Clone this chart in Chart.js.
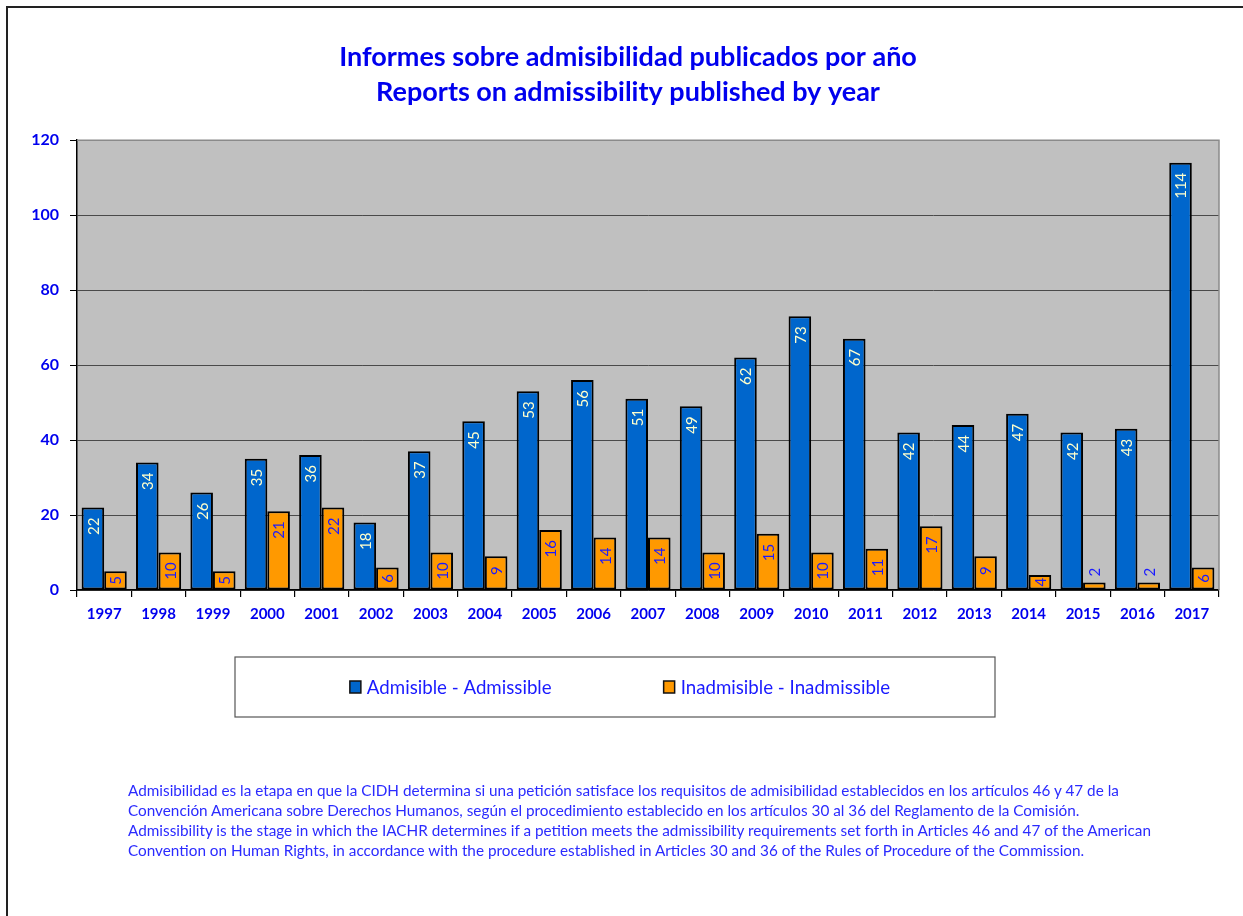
<!DOCTYPE html>
<html>
<head>
<meta charset="utf-8">
<title>Informes sobre admisibilidad publicados por año</title>
<script src="https://cdn.jsdelivr.net/npm/chart.js@4/dist/chart.umd.min.js"></script>
<style>
    html, body { margin: 0; padding: 0; background: #fff; overflow: hidden; }
    #frame {
        position: absolute; left: 6px; top: 6px; width: 1400px; height: 1100px;
        border-left: 2px solid #222; border-top: 2px solid #222;
    }
    #wrap { position: absolute; left: 0; top: 0; width: 1243px; height: 916px; }
    #note {
        position: absolute; left: 128px; top: 780px;
        font-family: Lato, sans-serif; font-size: 15.3px; line-height: 20px;
        color: #2b2bff; white-space: nowrap;
    }
</style>
</head>
<body>
<div id="frame"></div>
<div id="wrap">
    <canvas id="reportsChart" width="1243" height="916"></canvas>
    <div id="note">
        Admisibilidad es la etapa en que la CIDH determina si una petición satisface los requisitos de admisibilidad establecidos en los artículos 46 y 47 de la<br>
        Convención Americana sobre Derechos Humanos, según el procedimiento establecido en los artículos 30 al 36 del Reglamento de la Comisión.<br>
        Admissibility is the stage in which the IACHR determines if a petition meets the admissibility requirements set forth in Articles 46 and 47 of the American<br>
        Convention on Human Rights, in accordance with the procedure established in Articles 30 and 36 of the Rules of Procedure of the Commission.
    </div>
</div>
<script>
    // Chart data
    const years = ['1997', '1998', '1999', '2000', '2001', '2002', '2003', '2004', '2005', '2006', '2007',
                   '2008', '2009', '2010', '2011', '2012', '2013', '2014', '2015', '2016', '2017'];
    const admisible = [22, 34, 26, 35, 36, 18, 37, 45, 53, 56, 51, 49, 62, 73, 67, 42, 44, 47, 42, 43, 114];
    const inadmisible = [5, 10, 5, 21, 22, 6, 10, 9, 16, 14, 14, 10, 15, 10, 11, 17, 9, 4, 2, 2, 6];
    const seriesNames = ['Admisible - Admissible', 'Inadmisible - Inadmissible'];
    const titleLines = ['Informes sobre admisibilidad publicados por año', 'Reports on admissibility published by year'];
    const yMax = 120;
    const yStep = 20;

    const BLUE = '#0066cc';
    const ORANGE = '#ff9900';
    const TEXT_BLUE = '#0000ee';

    // grey plot background + grey top/right border
    const plotArea = {
        id: 'plotArea',
        afterLayout(chart) {
            // title sits a bit right of the canvas centre in the original
            if (chart.titleBlock) chart.titleBlock.left += 37;
        },
        beforeDraw(chart) {
            const a = chart.chartArea;
            const ctx = chart.ctx;
            ctx.save();
            ctx.fillStyle = '#c0c0c0';
            ctx.fillRect(a.left, a.top, a.right - a.left, a.bottom - a.top);
            ctx.restore();
        },
        beforeDatasetsDraw(chart) {
            const a = chart.chartArea;
            const ctx = chart.ctx;
            ctx.save();
            ctx.strokeStyle = '#8a8a8a';
            ctx.lineWidth = 1.5;
            ctx.beginPath();
            ctx.moveTo(a.left, a.top);
            ctx.lineTo(a.right, a.top);
            ctx.lineTo(a.right, a.bottom);
            ctx.stroke();
            ctx.restore();
        }
    };

    // rotated value labels, inside the bar end (above it when the bar is too short)
    const barLabels = {
        id: 'barLabels',
        afterDatasetsDraw(chart) {
            const ctx = chart.ctx;
            const colors = ['#ffffcc', '#1a1aff'];
            ctx.save();
            ctx.font = '15px Lato';
            ctx.textBaseline = 'middle';
            chart.data.datasets.forEach(function(ds, i) {
                chart.getDatasetMeta(i).data.forEach(function(bar, j) {
                    const text = String(ds.data[j]);
                    const tw = ctx.measureText(text).width;
                    const h = bar.base - bar.y;
                    ctx.save();
                    if (h - tw >= 4) {
                        ctx.translate(bar.x, bar.y + Math.min(10, (h - tw) / 2));
                        ctx.rotate(-Math.PI / 2);
                        ctx.textAlign = 'right';
                        ctx.fillStyle = colors[i];
                    } else {
                        ctx.translate(bar.x, bar.y - 6);
                        ctx.rotate(-Math.PI / 2);
                        ctx.textAlign = 'left';
                        ctx.fillStyle = '#1a1aff';
                    }
                    ctx.fillText(text, 0, 1);
                    ctx.restore();
                });
            });
            ctx.restore();
        }
    };

    // legend inside a framed box below the axis
    const boxedLegend = {
        id: 'boxedLegend',
        afterDraw(chart) {
            const ctx = chart.ctx;
            const box = { left: 235, top: 657, width: 760, height: 60 };
            const gap = 112;
            const swatch = 12;
            ctx.save();
            ctx.strokeStyle = '#555';
            ctx.lineWidth = 1.2;
            ctx.strokeRect(box.left, box.top, box.width, box.height);

            ctx.font = '18.7px Lato';
            ctx.textBaseline = 'middle';
            const items = chart.data.datasets.map(function(ds) {
                return { label: ds.label, color: ds.backgroundColor, w: swatch + 5 + ctx.measureText(ds.label).width };
            });
            const total = items.reduce(function(s, it) { return s + it.w; }, 0) + gap * (items.length - 1);
            let x = box.left + box.width / 2 - total / 2 + 5;
            const cy = box.top + box.height / 2;
            items.forEach(function(it) {
                ctx.fillStyle = it.color;
                ctx.fillRect(x, cy - 6, swatch - 1, swatch);
                ctx.strokeStyle = '#111';
                ctx.lineWidth = 1.5;
                ctx.strokeRect(x, cy - 6, swatch - 1, swatch);
                ctx.fillStyle = '#1a1aff';
                ctx.textAlign = 'left';
                ctx.fillText(it.label, x + swatch + 5, cy + 1);
                x += it.w + gap;
            });
            ctx.restore();
        }
    };

    const ctx = document.getElementById('reportsChart').getContext('2d');
    new Chart(ctx, {
        type: 'bar',
        data: {
            labels: years,
            datasets: [{
                label: seriesNames[0],
                data: admisible,
                backgroundColor: BLUE,
                borderColor: '#000',
                borderWidth: 2,
                borderSkipped: false
            }, {
                label: seriesNames[1],
                data: inadmisible,
                backgroundColor: ORANGE,
                borderColor: '#000',
                borderWidth: 2,
                borderSkipped: false
            }]
        },
        options: {
            responsive: false,
            animation: false,
            categoryPercentage: 0.83,
            barPercentage: 1.0,
            layout: { padding: { left: 0, right: 24, top: 0, bottom: 286 } },
            plugins: {
                legend: { display: false },
                tooltip: { enabled: false },
                title: {
                    display: true,
                    text: titleLines,
                    color: TEXT_BLUE,
                    font: { family: 'Lato', size: 27, weight: 'bold', lineHeight: 1.3 },
                    padding: { top: 40, bottom: 30 }
                }
            },
            scales: {
                x: {
                    grid: { offset: true, drawOnChartArea: false, tickLength: 7, tickColor: '#000', lineWidth: 1.2 },
                    border: { color: '#000', width: 1.5 },
                    ticks: { color: TEXT_BLUE, font: { family: 'Lato', size: 15, weight: 'bold' }, padding: 8, maxRotation: 0 },
                    afterFit: function(scale) { scale.height = 40; }
                },
                y: {
                    min: 0,
                    max: yMax,
                    ticks: { stepSize: yStep, color: TEXT_BLUE, font: { family: 'Lato', size: 16, weight: 'bold' }, padding: 11 },
                    grid: {
                        color: function(c) { return c.tick && c.tick.value === yMax ? 'rgba(0,0,0,0)' : '#4a4a4a'; },
                        tickColor: '#000',
                        tickLength: 7,
                        lineWidth: 1
                    },
                    border: { color: '#000', width: 1.5 },
                    afterFit: function(scale) { scale.width = 77; }
                }
            }
        },
        plugins: [plotArea, barLabels, boxedLegend]
    });
</script>
</body>
</html>
